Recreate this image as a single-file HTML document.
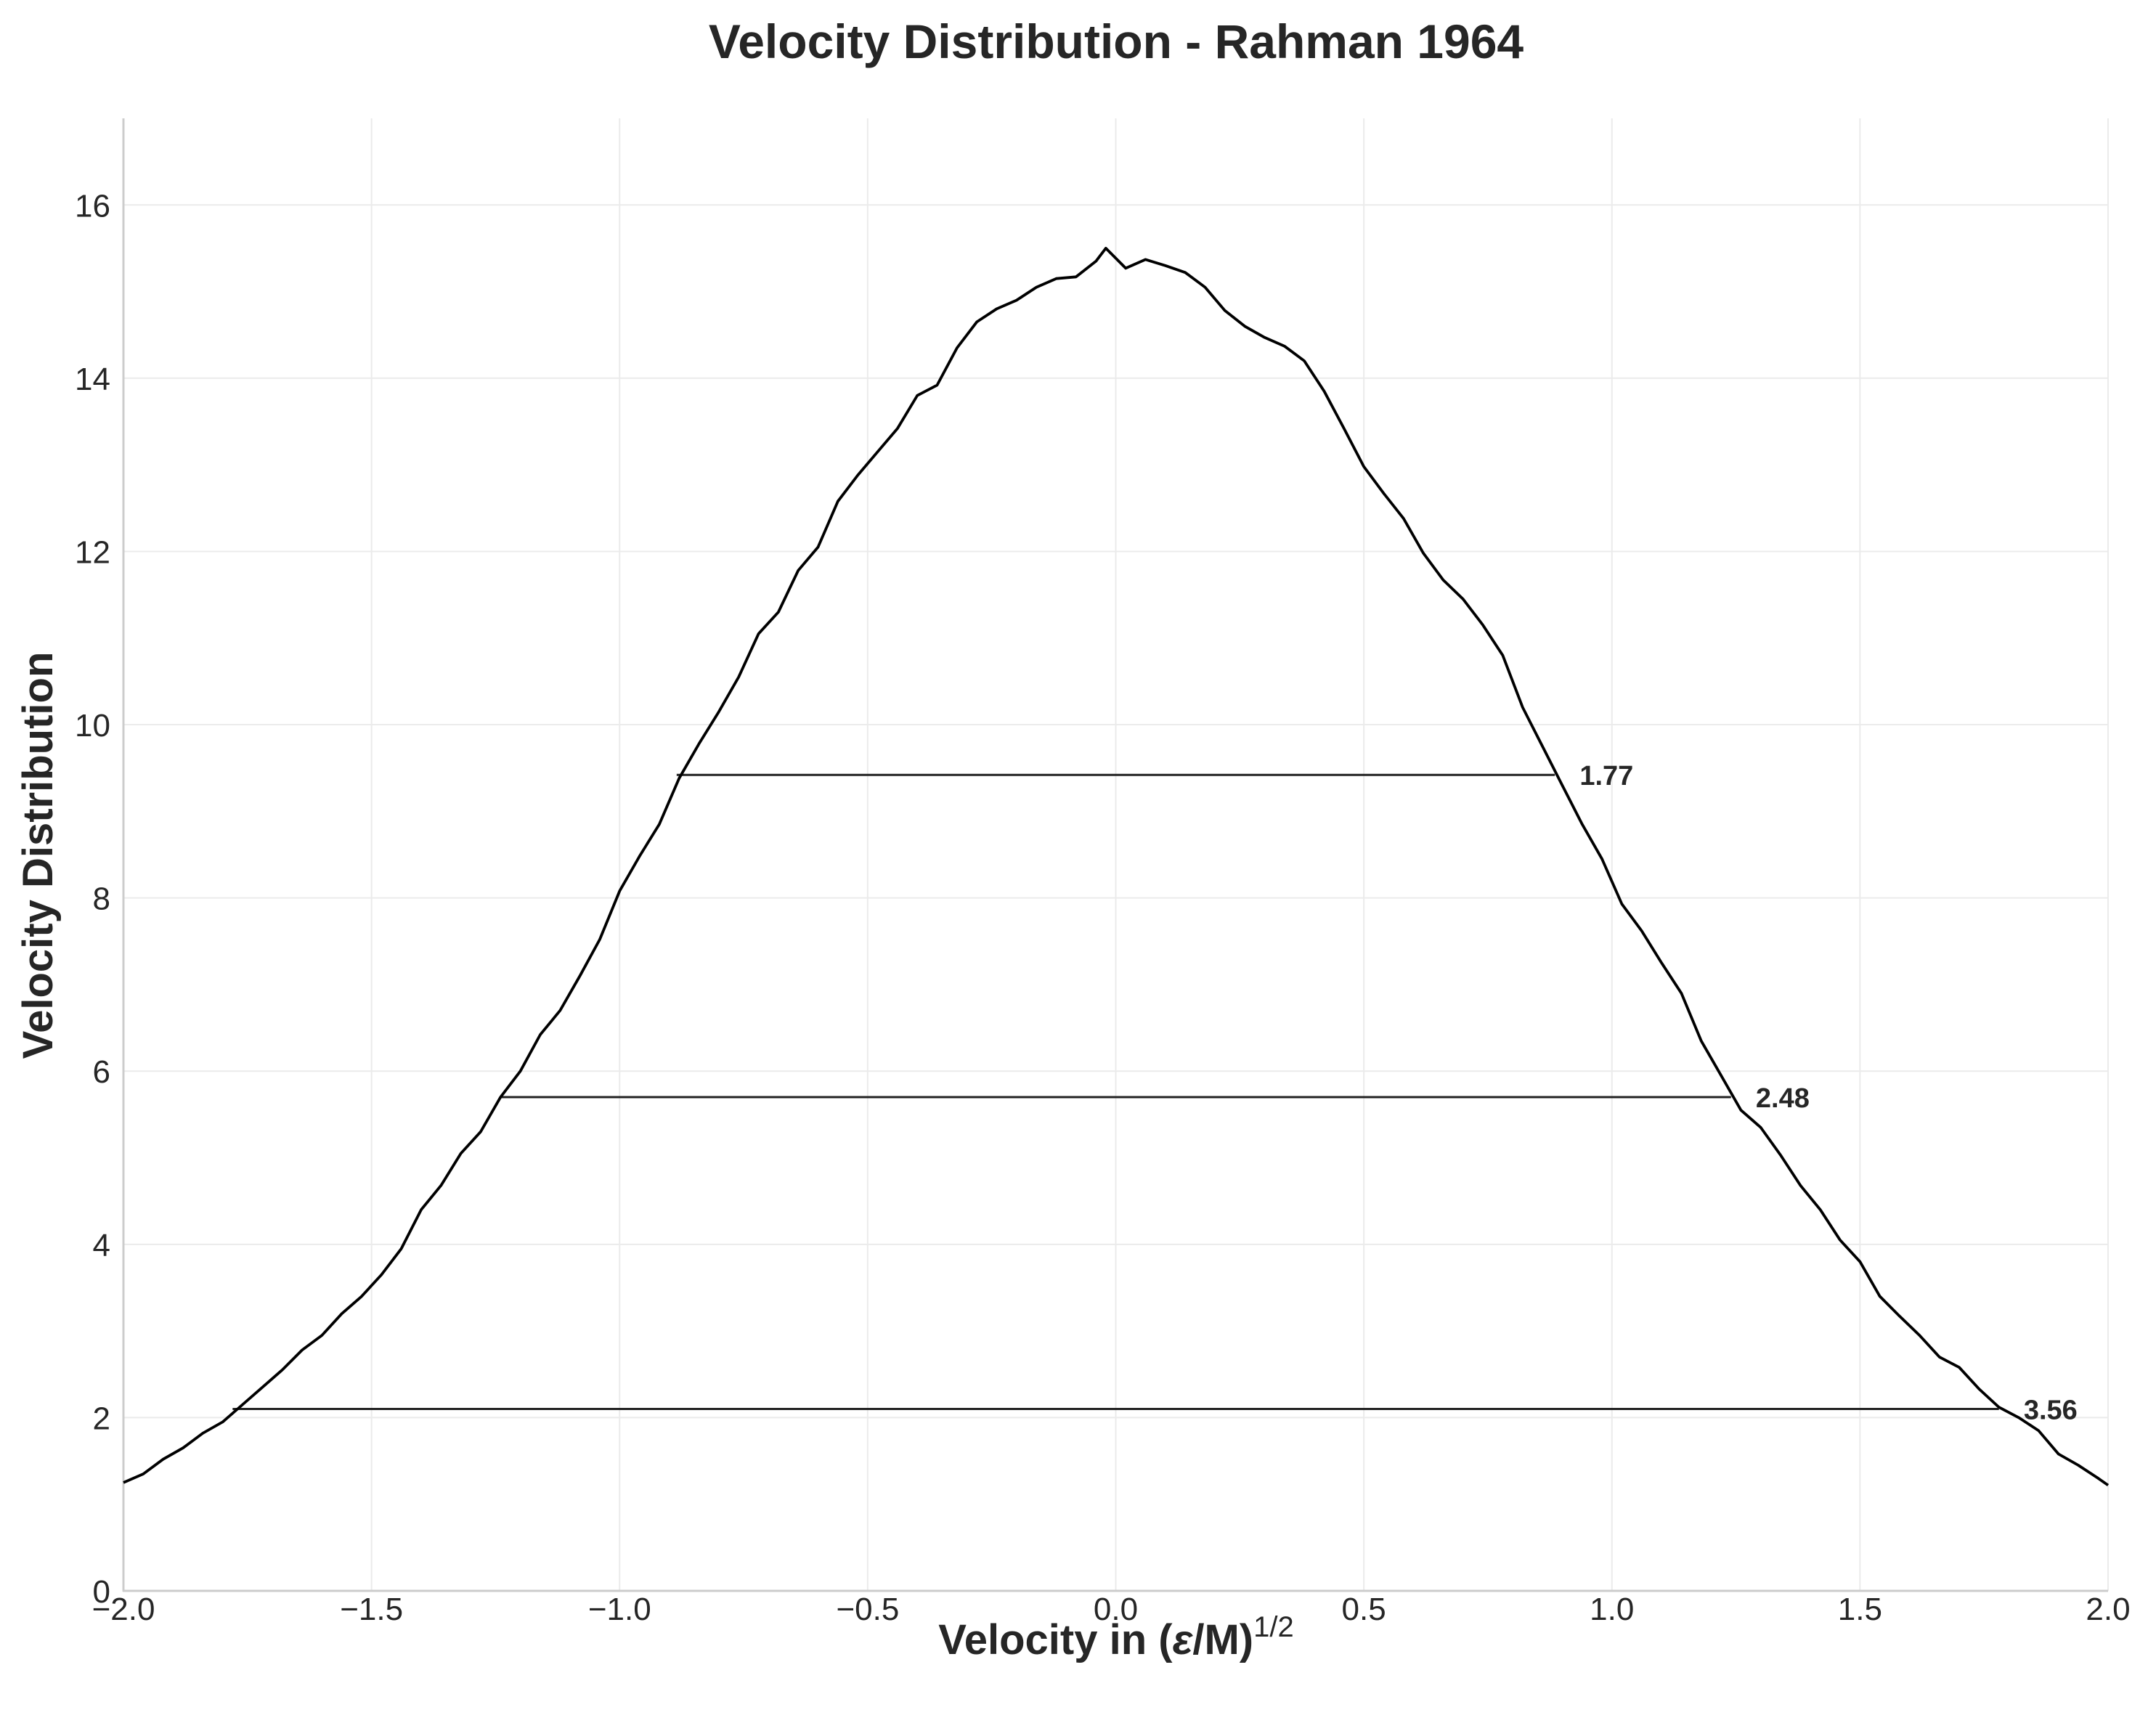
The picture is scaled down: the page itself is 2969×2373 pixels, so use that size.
<!DOCTYPE html>
<html><head><meta charset="utf-8"><style>
html,body{margin:0;padding:0;background:#fff;}
svg text{font-family:"Liberation Sans",Arial,sans-serif;fill:#262626;}
</style></head><body>
<svg id="chart" width="2969" height="2368" viewBox="0 0 2969 2368" xmlns="http://www.w3.org/2000/svg">
<g id="grid"></g>
<g id="axes"></g>
<g id="marks"></g>
<text x="1537" y="80" text-anchor="middle" font-size="66" font-weight="bold">Velocity Distribution - Rahman 1964</text>
<text x="1537" y="2278" text-anchor="middle" font-size="58" font-weight="bold">Velocity in (<tspan font-style="italic">ε</tspan>/M)<tspan font-size="40" font-weight="normal" dy="-24">1/2</tspan></text>
<text transform="translate(72,1178) rotate(-90)" text-anchor="middle" font-size="58" font-weight="bold">Velocity Distribution</text>
</svg>
<script>
const xs=[-2.0,-1.96,-1.92,-1.88,-1.84,-1.80,-1.76,-1.72,-1.68,-1.64,-1.60,-1.56,-1.52,-1.48,-1.44,-1.40,-1.36,-1.32,-1.28,-1.24,-1.20,-1.16,-1.12,-1.08,-1.04,-1.00,-0.96,-0.92,-0.88,-0.84,-0.80,-0.76,-0.72,-0.68,-0.64,-0.60,-0.56,-0.52,-0.48,-0.44,-0.40,-0.36,-0.32,-0.28,-0.24,-0.20,-0.16,-0.12,-0.08,-0.04,-0.02,0.02,0.06,0.10,0.14,0.18,0.22,0.26,0.30,0.34,0.38,0.42,0.46,0.50,0.54,0.58,0.62,0.66,0.70,0.74,0.78,0.82,0.86,0.90,0.94,0.98,1.02,1.06,1.10,1.14,1.18,1.22,1.26,1.30,1.34,1.38,1.42,1.46,1.50,1.54,1.58,1.62,1.66,1.70,1.74,1.78,1.82,1.86,1.90,1.94,1.98,2.00];
const ys=[1.25,1.35,1.52,1.65,1.82,1.95,2.15,2.35,2.55,2.78,2.95,3.2,3.4,3.65,3.95,4.4,4.68,5.05,5.3,5.7,6.0,6.42,6.7,7.1,7.52,8.08,8.48,8.85,9.38,9.78,10.15,10.55,11.05,11.3,11.78,12.05,12.58,12.88,13.15,13.42,13.8,13.92,14.35,14.65,14.8,14.9,15.05,15.15,15.17,15.35,15.5,15.27,15.37,15.3,15.22,15.05,14.78,14.6,14.47,14.37,14.2,13.85,13.42,12.98,12.67,12.38,11.98,11.67,11.45,11.15,10.8,10.2,9.75,9.3,8.85,8.45,7.93,7.62,7.25,6.9,6.35,5.95,5.55,5.35,5.03,4.68,4.4,4.05,3.8,3.4,3.17,2.95,2.7,2.58,2.33,2.12,2.0,1.85,1.58,1.45,1.3,1.22];
const widthVals=[1.77,2.48,3.56];
const widthLevels=[9.42,5.7,2.1];
const xTicks=[-2.0,-1.5,-1.0,-0.5,0.0,0.5,1.0,1.5,2.0];
const xTickLabels=["\u22122.0","\u22121.5","\u22121.0","\u22120.5","0.0","0.5","1.0","1.5","2.0"];
const yTicks=[0,2,4,6,8,10,12,14,16];
const yTickLabels=["0","2","4","6","8","10","12","14","16"];

const L=170,R=2903,T=163,B=2191,xMin=-2,xMax=2,yMin=0,yMax=17;
const sx=v=>L+(v-xMin)/(xMax-xMin)*(R-L);
const sy=v=>B-(v-yMin)/(yMax-yMin)*(B-T);
const NS="http://www.w3.org/2000/svg";
function mk(tag,parent,attrs){const e=document.createElementNS(NS,tag);for(const k in attrs)e.setAttribute(k,attrs[k]);parent.appendChild(e);return e;}
const grid=document.getElementById('grid'),axes=document.getElementById('axes'),marks=document.getElementById('marks');
xTicks.forEach((t,i)=>{
 const g=mk('line',grid,{x1:sx(t),x2:sx(t),y1:T,y2:B,stroke:'#ebebeb','stroke-width':2});
 
 
 const tx=mk('text',axes,{x:sx(t),y:B+40,'text-anchor':'middle','font-size':44});
 tx.textContent=xTickLabels[i];
 
 
});
yTicks.forEach((t,i)=>{
 const g=mk('line',grid,{x1:L,x2:R,y1:sy(t),y2:sy(t),stroke:'#ebebeb','stroke-width':2});
 
 
 const tx=mk('text',axes,{x:L-18,y:sy(t)+16,'text-anchor':'end','font-size':44});
 tx.textContent=yTickLabels[i];
 
 
});
const sl=mk('line',axes,{x1:L,x2:L,y1:T,y2:B+1,stroke:'#cccccc','stroke-width':3});


const sb=mk('line',axes,{x1:L-1,x2:R,y1:B,y2:B,stroke:'#cccccc','stroke-width':3});


widthVals.forEach((w,i)=>{
 const y=sy(widthLevels[i]);
 const ln=mk('line',marks,{x1:sx(-w/2),x2:sx(w/2),y1:y,y2:y,stroke:'#222','stroke-width':3});
 
 
 const tx=mk('text',marks,{x:sx(w/2+0.05),y:y+14,'font-size':38,'font-weight':'bold'});
 tx.textContent=w.toFixed(2);
 
 
});
const d=xs.map((x,i)=>(i?'L':'M')+sx(x).toFixed(1)+','+sy(ys[i]).toFixed(1)).join(' ');
const p=mk('path',marks,{d:d,fill:'none',stroke:'#000','stroke-width':3.8,'stroke-linejoin':'round'});


</script>
</body></html>
